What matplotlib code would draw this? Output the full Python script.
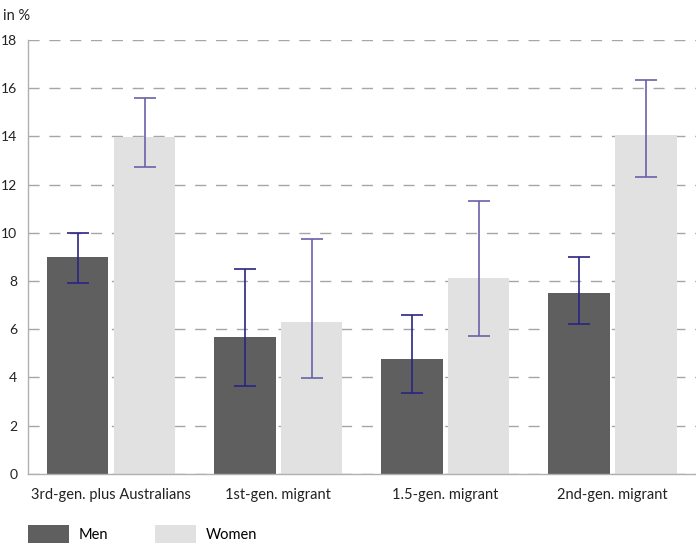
import numpy as np
import matplotlib
matplotlib.use("Agg")
import matplotlib.pyplot as plt

# categories and values (in %)
categories = ["3rd-gen. plus Australians", "1st-gen. migrant", "1.5-gen. migrant", "2nd-gen. migrant"]
men = [9.0, 5.66, 4.76, 7.49]
men_lo = [7.92, 3.66, 3.35, 6.20]
men_hi = [9.98, 8.49, 6.58, 9.01]
women = [13.99, 6.31, 8.14, 14.06]
women_lo = [12.74, 3.96, 5.73, 12.32]
women_hi = [15.59, 9.73, 11.32, 16.34]

plt.rcParams['font.family'] = ['Lato', 'DejaVu Sans']

fig = plt.figure(figsize=(6.96, 5.49), dpi=100)
ax = fig.add_axes([27.7 / 696, (549 - 473.8) / 549, 1 - 27.7 / 696, (473.8 - 40) / 549])

x = np.arange(len(categories))
w = 0.367
off = 0.2

men = np.array(men)
women = np.array(women)
men_err = [men - np.array(men_lo), np.array(men_hi) - men]
women_err = [women - np.array(women_lo), np.array(women_hi) - women]

ax.bar(x - off, men, w, color='#5f5f5f', label='Men', zorder=2)
ax.bar(x + off, women, w, color='#e1e1e1', label='Women', zorder=2)
ax.errorbar(x - off, men, yerr=men_err, fmt='none', ecolor='#2b2485',
            elinewidth=1.2, capsize=7.8, capthick=1.2, zorder=3)
ax.errorbar(x + off, women, yerr=women_err, fmt='none', ecolor='#6a62a8',
            elinewidth=1.2, capsize=7.8, capthick=1.2, zorder=3)

ax.set_xlim(-0.5, 3.5)
ax.set_ylim(0, 18)
ax.set_yticks(np.arange(0, 19, 2))
ax.yaxis.grid(True, linestyle=(0, (8, 7)), color='#a6a6a6', linewidth=1.0, zorder=0)
ax.set_axisbelow(True)

for s in ['top', 'right']:
    ax.spines[s].set_visible(False)
for s in ['left', 'bottom']:
    ax.spines[s].set_color('#b0b0b0')
    ax.spines[s].set_linewidth(1.0)

ax.set_xticks(x)
ax.set_xticklabels(categories, fontsize=10.5, color='#222222')
ax.tick_params(axis='x', length=0, pad=10)
ax.tick_params(axis='y', length=0, pad=7.5, labelsize=10, labelcolor='#222222')

fig.text(3 / 696, 1 - 16 / 549, 'in %', fontsize=10.5, color='#222222', va='center', ha='left')

ax.legend(loc='center left', bbox_to_anchor=(0.0, -0.139), ncol=2, frameon=False,
          fontsize=10.5, handlelength=2.85, handleheight=1.5, handletextpad=0.65,
          columnspacing=3.2, borderaxespad=0, borderpad=0)

fig.savefig('out.png', dpi=100)
